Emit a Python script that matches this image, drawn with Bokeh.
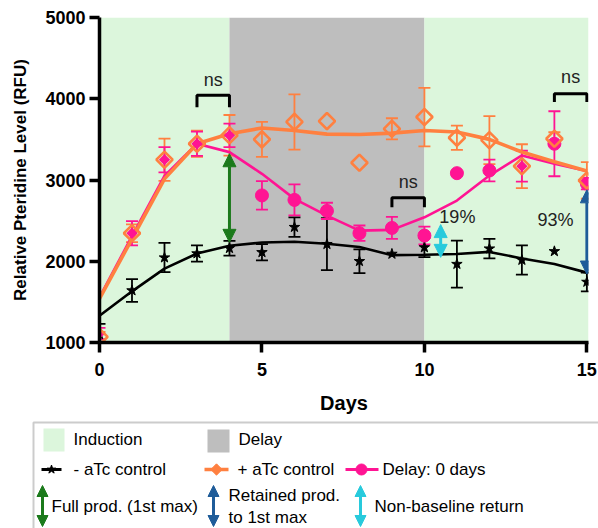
import numpy as np
from bokeh.plotting import figure
from bokeh.models import Range1d, FixedTicker, Arrow, NormalHead
from bokeh.embed import file_html
from bokeh.resources import INLINE
from bokeh.core.properties import value

# ---------------- data ----------------
days = list(range(16))

black_mean = [1100, 1640, 2045, 2095, 2160, 2110, 2420, 2210, 2000, 2090, 2170, 1965, 2155, 2015, 2122, 1745]
black_err = [130, 140, 180, 100, 90, 100, 120, 320, 145, 0, 120, 290, 120, 180, 0, 115]
black_fit = [1330, 1630, 1910, 2095, 2190, 2230, 2240, 2215, 2175, 2075, 2080, 2090, 2115, 2035, 1965, 1860]

orange_mean = [1070, 2345, 3250, 3446, 3550, 3500, 3715, 3725, 3212, 3630, 3775, 3520, 3490, 3170, 3508, 2994]
orange_err = [60, 110, 260, 160, 250, 215, 340, 0, 0, 130, 360, 150, 295, 270, 80, 225]
orange_fit = [1540, 2275, 3014, 3446, 3569, 3640, 3610, 3565, 3560, 3577, 3610, 3590, 3500, 3345, 3225, 3110]

pink_mean = [1110, 2345, 3250, 3446, 3550, 2810, 2755, 2620, 2345, 2410, 2316, 3084, 3117, 3170, 3446, 2955]
pink_err = [70, 150, 155, 150, 145, 175, 190, 100, 95, 135, 110, 0, 135, 190, 400, 70]
pink_fit = [1555, 2310, 3050, 3446, 3343, 3076, 2768, 2562, 2377, 2386, 2541, 2747, 3055, 3302, 3200, 3110]
pink_inside_diamond_days = [0, 1, 2, 3, 4, 13]

phase_start = [0, 4, 10]
phase_end = [4, 10, 15]
phase_names = ["Induction", "Delay", "Induction"]

bracket_left = [3, 9, 14]
bracket_right = [4, 10, 15]
bracket_top = [4042, 2781, 4063]
bracket_leg = [3894, 2665, 3960]
ns_y = [4227, 2973, 4268]

arrow_day = [4, 15, 10.5]
arrow_low = [2233, 1843, 2048]
arrow_high = [3323, 2879, 2451]
pct_text = ["19%", "93%"]
pct_day = [10.46, 13.48]
pct_y = [2541, 2509]

y_ticks = [1000, 2000, 3000, 4000, 5000]
x_ticks = [0, 5, 10, 15]

# ---------------- style ----------------
FONT = "Liberation Sans"
ORANGE = "#FF8040"
PINK = "#FF1493"
GREEN_BG = "#DCF6DC"
GRAY_BG = "#BEBEBE"
ARROW_GREEN = "#1B7A1B"
ARROW_BLUE = "#1F5C99"
ARROW_CYAN = "#28CADC"
arrow_colors = [ARROW_GREEN, ARROW_BLUE, ARROW_CYAN]
phase_colors = {"Induction": GREEN_BG, "Delay": GRAY_BG}

X_END = 15.05
p = figure(width=598, height=416, x_range=Range1d(0, X_END), y_range=Range1d(1000, 5000),
           output_backend="svg", toolbar_location=None,
           min_border_left=99, min_border_right=10, min_border_top=17, min_border_bottom=74)
p.outline_line_color = None
p.grid.visible = False
p.background_fill_color = "white"

# backgrounds
ends = [e if e < 15 else X_END for e in phase_end]
p.quad(left=phase_start, right=ends, bottom=1000, top=5000,
       fill_color=[phase_colors[n] for n in phase_names], line_color=None)


def errbars(mean, err, color, lw=1.8):
    xs = [d for d, e in zip(days, err) if e > 0]
    lo = [m - e for m, e in zip(mean, err) if e > 0]
    hi = [m + e for m, e in zip(mean, err) if e > 0]
    p.segment(x0=xs, y0=lo, x1=xs, y1=hi, line_color=color, line_width=lw)
    p.scatter(xs, lo, marker="dash", size=12, line_color=color, line_width=lw)
    p.scatter(xs, hi, marker="dash", size=12, line_color=color, line_width=lw)


errbars(black_mean, black_err, "black")
errbars(orange_mean, orange_err, ORANGE)
errbars(pink_mean, pink_err, PINK)

p.line(days, black_fit, line_color="black", line_width=2.6)
p.line(days, pink_fit, line_color=PINK, line_width=2.6)
p.line(days, orange_fit, line_color=ORANGE, line_width=3.6)

p.scatter(days, black_mean, marker="star", size=11, fill_color="black", line_color="black")

circ_d = [d for d in days if d not in pink_inside_diamond_days]
dia_d = [d for d in days if d in pink_inside_diamond_days]
p.scatter(circ_d, [pink_mean[d] for d in circ_d], marker="circle", size=13,
          fill_color=PINK, line_color=PINK)
p.scatter(dia_d, [pink_mean[d] for d in dia_d], marker="square", angle=np.pi / 4, size=8,
          fill_color=PINK, line_color=None)
p.scatter(days, orange_mean, marker="square", angle=np.pi / 4, size=11.5,
          fill_color=None, line_color=ORANGE, line_width=2.6)

# significance brackets
p.multi_line(xs=[[l, l, r, r] for l, r in zip(bracket_left, bracket_right)],
             ys=[[g, t, t, g] for g, t in zip(bracket_leg, bracket_top)],
             line_color="black", line_width=3)
p.text(x=[(l + r) / 2 for l, r in zip(bracket_left, bracket_right)], y=ns_y, text=["ns"] * 3,
       text_font=value(FONT), text_font_size="18px", text_align="center",
       text_baseline="middle", text_color="#222222")
p.text(x=pct_day, y=pct_y, text=pct_text, text_font=value(FONT), text_font_size="18px",
       text_align="left", text_baseline="middle", text_color="#222222")
# arrows
for d, lo, hi, c in zip(arrow_day, arrow_low, arrow_high, arrow_colors):
    p.add_layout(Arrow(start=NormalHead(size=13, fill_color=c, line_color=c),
                       end=NormalHead(size=13, fill_color=c, line_color=c),
                       x_start=d, y_start=lo, x_end=d, y_end=hi,
                       line_color=c, line_width=3))

# axes
p.xaxis.ticker = FixedTicker(ticks=x_ticks)
p.yaxis.ticker = FixedTicker(ticks=y_ticks)
for ax in (p.xaxis[0], p.yaxis[0]):
    ax.axis_line_width = 3.5
    ax.major_tick_line_width = 3.5
    ax.major_tick_out = 10
    ax.major_tick_in = 0
    ax.minor_tick_line_color = None
    ax.major_label_text_font = FONT
    ax.major_label_text_font_style = "bold"
    ax.major_label_text_font_size = "18px"
    ax.major_label_text_color = "black"
    ax.axis_label_text_font = FONT
    ax.axis_label_text_font_style = "bold"
    ax.axis_label_text_color = "black"
p.xaxis.axis_label = "Days"
p.xaxis.axis_label_text_font_size = "20px"
p.xaxis.major_label_standoff = 10
p.xaxis.axis_label_standoff = 13
p.yaxis.axis_label = "Relative Pteridine Level (RFU)"
p.yaxis.axis_label_text_font_size = "17px"
p.yaxis.major_label_standoff = 4
p.yaxis.axis_label_standoff = 12

# ---------------- legend (separate panel, page-pixel coordinates) ----------------
lg = figure(width=598, height=112, x_range=Range1d(0, 598), y_range=Range1d(528, 416),
            output_backend="svg", toolbar_location=None, min_border=0,
            min_border_left=0, min_border_right=0, min_border_top=0, min_border_bottom=0,
            x_axis_type=None, y_axis_type=None)
lg.outline_line_color = None
lg.grid.visible = False

lg.quad(left=33, right=700, top=422, bottom=600, fill_color=None, line_color="#CCCCCC", line_width=2)
lg.quad(left=[43, 207], right=[64, 229], top=[428, 429], bottom=[451, 452],
        fill_color=[GREEN_BG, GRAY_BG], line_color=None)

lg.segment(x0=[41, 204, 345], y0=[469] * 3, x1=[61, 228, 378], y1=[469] * 3,
           line_color=["black", ORANGE, PINK], line_width=[3, 3.5, 3])
lg.scatter([51], [469], marker="star", size=9, fill_color="black", line_color="black")
lg.scatter([216], [469], marker="square", angle=np.pi / 4, size=8, fill_color=ORANGE, line_color=ORANGE)
lg.scatter([361], [469], marker="circle", size=11, fill_color=PINK, line_color=PINK)

leg_text = ["Induction", "Delay", "- aTc control", "+ aTc control", "Delay: 0 days",
            "Full prod. (1st max)", "Retained prod.", "to 1st max", "Non-baseline return"]
leg_x = [73, 238, 73, 237, 382, 51, 228, 228, 374]
leg_y = [439, 439, 469, 469, 469, 506, 495, 517, 506]
lg.text(x=leg_x, y=leg_y, text=leg_text, text_font=value(FONT), text_font_size="17px",
        text_baseline="middle", text_align="left", text_color="black")

for x, c in zip([42, 213, 360], arrow_colors):
    lg.add_layout(Arrow(start=NormalHead(size=11, fill_color=c, line_color=c),
                        end=NormalHead(size=11, fill_color=c, line_color=c),
                        x_start=x, y_start=526, x_end=x, y_end=485,
                        line_color=c, line_width=3))

open("out.html", "w").write(file_html([p, lg], INLINE))
